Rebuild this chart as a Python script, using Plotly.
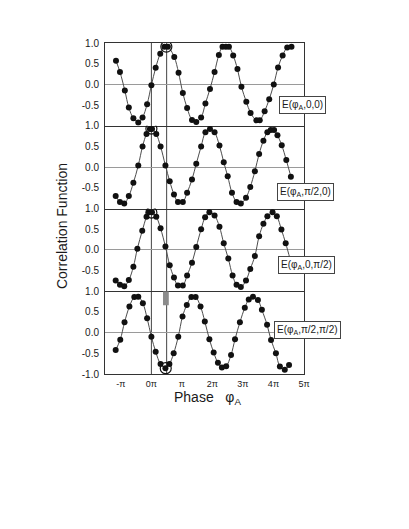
import plotly.graph_objects as go
from plotly.subplots import make_subplots

# ---------------- data (phase in units of pi) ----------------
x1 = [-1.16, -1.03, -0.87, -0.74, -0.59, -0.43, -0.29, -0.14, 0.0, 0.14, 0.29, 0.43, 0.54,
      0.75, 0.89, 1.03, 1.17, 1.33, 1.47, 1.63, 1.77, 1.92, 2.07, 2.21, 2.33, 2.44, 2.54,
      2.68, 2.82, 2.95, 3.11, 3.25, 3.44, 3.55, 3.71, 3.86, 4.01, 4.15, 4.30, 4.45, 4.59]
y1 = [0.57, 0.30, -0.15, -0.56, -0.82, -0.92, -0.80, -0.48, -0.02, 0.40, 0.74, 0.91, 0.91,
      0.66, 0.28, -0.21, -0.57, -0.86, -0.91, -0.80, -0.46, -0.11, 0.30, 0.71, 0.91, 0.91, 0.91,
      0.70, 0.37, -0.06, -0.42, -0.69, -0.87, -0.87, -0.65, -0.36, 0.00, 0.41, 0.70, 0.89, 0.91]

x2 = [-1.17, -1.03, -0.89, -0.74, -0.59, -0.43, -0.29, -0.16, -0.05, 0.02, 0.16, 0.30, 0.46,
      0.60, 0.74, 0.87, 1.03, 1.17, 1.33, 1.47, 1.63, 1.77, 1.92, 2.07, 2.23, 2.37, 2.50,
      2.64, 2.79, 2.93, 3.10, 3.24, 3.39, 3.53, 3.67, 3.80, 3.91, 4.02, 4.13, 4.27, 4.42, 4.57]
y2 = [-0.70, -0.84, -0.88, -0.70, -0.38, 0.04, 0.50, 0.80, 0.92, 0.92, 0.80, 0.50, 0.04,
      -0.34, -0.66, -0.84, -0.84, -0.62, -0.30, 0.08, 0.50, 0.84, 0.92, 0.84, 0.52, 0.12, -0.22,
      -0.62, -0.84, -0.88, -0.74, -0.48, -0.10, 0.32, 0.64, 0.84, 0.90, 0.90, 0.77, 0.53, 0.17, -0.23]

x3 = [-1.17, -1.03, -0.89, -0.74, -0.59, -0.46, -0.30, -0.16, -0.08, 0.02, 0.16, 0.30, 0.46,
      0.60, 0.74, 0.87, 1.03, 1.17, 1.33, 1.47, 1.63, 1.76, 1.90, 2.07, 2.23, 2.37, 2.52,
      2.66, 2.79, 2.93, 3.10, 3.24, 3.39, 3.53, 3.67, 3.80, 3.97, 4.11, 4.26, 4.40, 4.55]
y3 = [-0.74, -0.84, -0.88, -0.73, -0.41, 0.03, 0.46, 0.80, 0.91, 0.91, 0.80, 0.52, 0.08,
      -0.37, -0.67, -0.86, -0.86, -0.62, -0.31, 0.07, 0.50, 0.79, 0.91, 0.83, 0.56, 0.16, -0.21,
      -0.62, -0.84, -0.90, -0.74, -0.46, -0.15, 0.33, 0.63, 0.81, 0.91, 0.81, 0.49, 0.16, -0.24]

x4 = [-1.17, -1.02, -0.88, -0.72, -0.56, -0.43, -0.28, -0.14, 0.0, 0.14, 0.30, 0.46, 0.59,
      0.73, 0.88, 1.02, 1.16, 1.31, 1.45, 1.61, 1.75, 1.90, 2.04, 2.18, 2.31, 2.45, 2.61,
      2.74, 2.90, 3.06, 3.19, 3.33, 3.49, 3.62, 3.79, 3.92, 4.08, 4.21, 4.37, 4.51]
y4 = [-0.42, -0.17, 0.25, 0.63, 0.86, 0.87, 0.71, 0.35, -0.10, -0.46, -0.76, -0.86, -0.76,
      -0.50, -0.10, 0.39, 0.67, 0.86, 0.86, 0.63, 0.27, -0.16, -0.48, -0.73, -0.84, -0.81, -0.54,
      -0.16, 0.25, 0.60, 0.80, 0.87, 0.79, 0.55, 0.19, -0.18, -0.50, -0.82, -0.90, -0.78]

# highlighted (circled) points per panel
hl_x = [0.49, 0.0, 0.0, 0.47]
hl_y = [0.91, 0.93, 0.90, -0.86]

panel_labels = ["E(φ<sub>A</sub>,0,0)", "E(φ<sub>A</sub>,π/2,0)",
                "E(φ<sub>A</sub>,0,π/2)", "E(φ<sub>A</sub>,π/2,π/2)"]

x_tickvals = [-1, 0, 1, 2, 3, 4, 5]
x_ticktext = ["-π", "0π", "π", "2π", "3π", "4π", "5π"]
y_tickvals_top = [1.0, 0.5, 0.0, -0.5]
y_ticktext_top = ["1.0", "0.5", "0.0", "-0.5"]
y_tickvals_bot = [1.0, 0.5, 0.0, -0.5, -1.0]
y_ticktext_bot = ["1.0", "0.5", "0.0", "-0.5", "-1.0"]

# ---------------- figure ----------------
FONT = "Liberation Sans, Arial, sans-serif"
INK = "#1a1a1a"

fig = make_subplots(rows=4, cols=1, shared_xaxes=True, vertical_spacing=0)

series = [(x1, y1), (x2, y2), (x3, y3), (x4, y4)]
for i, (xs, ys) in enumerate(series):
    r = i + 1
    fig.add_trace(go.Scatter(x=xs, y=ys, mode="lines", line=dict(color="#4d4d4d", width=1,
                             shape="spline", smoothing=1.0), hoverinfo="skip",
                             showlegend=False), row=r, col=1)
    fig.add_trace(go.Scatter(x=xs, y=ys, mode="markers",
                             marker=dict(size=6, color="#111111"), showlegend=False),
                  row=r, col=1)
    fig.add_trace(go.Scatter(x=[hl_x[i]], y=[hl_y[i]], mode="markers",
                             marker=dict(symbol="circle-open", size=11, color="#111111",
                                         line=dict(width=1.2)), showlegend=False),
                  row=r, col=1)

for r in range(1, 5):
    bottom = (r == 4)
    fig.update_yaxes(range=[-1, 1], tickvals=y_tickvals_bot if bottom else y_tickvals_top,
                     ticktext=y_ticktext_bot if bottom else y_ticktext_top,
                     showgrid=False, zeroline=True, zerolinecolor="#9a9a9a", zerolinewidth=1,
                     showline=True, linecolor="#333333", linewidth=1, mirror=True,
                     ticks="", ticklabelstandoff=3,
                     tickfont=dict(family=FONT, size=10, color=INK), row=r, col=1)
    fig.update_xaxes(range=[-1.52, 5.0], tickvals=x_tickvals, ticktext=x_ticktext,
                     showgrid=False, zeroline=False, showline=True, linecolor="#333333",
                     linewidth=1, mirror=(r == 1), ticks="",
                     showticklabels=bottom, ticklabelstandoff=1,
                     tickfont=dict(family=FONT, size=9, color=INK), row=r, col=1)

# vertical reference lines at 0 and pi/2 through all panels
shapes = []
for xv in [0.0, 0.5]:
    shapes.append(dict(type="line", xref="x4", yref="paper", x0=xv, x1=xv, y0=0, y1=1,
                       line=dict(color="#444444", width=1), layer="below"))
# grey bar at top of the last panel
shapes.append(dict(type="rect", xref="x4", yref="y4", x0=0.38, x1=0.57, y0=0.66, y1=1.0,
                   fillcolor="#8c8c8c", line=dict(width=0), layer="below"))

annotations = []
label_pos = [(0.990, 0.813), (1.0075, 0.549), (1.015, 0.328), (1.0176, 0.132)]
for (ax, ay), txt in zip(label_pos, panel_labels):
    annotations.append(dict(text=txt, xref="paper", yref="paper", x=ax, y=ay,
                            xanchor="center", yanchor="middle", showarrow=False,
                            font=dict(family=FONT, size=10, color=INK),
                            bgcolor="white", bordercolor="#444444", borderwidth=1,
                            borderpad=2))
annotations.append(dict(text="Correlation Function", xref="paper", yref="paper",
                        x=-0.216, y=0.447, textangle=-90, showarrow=False,
                        xanchor="center", yanchor="middle",
                        font=dict(family=FONT, size=14, color=INK)))
annotations.append(dict(text="Phase   φ<sub>A</sub>", xref="paper", yref="paper",
                        x=0.513, y=-0.0725, showarrow=False,
                        xanchor="center", yanchor="middle",
                        font=dict(family=FONT, size=14, color=INK)))

fig.update_layout(width=401, height=521, margin=dict(l=97, r=105, t=35, b=155),
                  plot_bgcolor="white", paper_bgcolor="white",
                  shapes=shapes, annotations=annotations, showlegend=False)

fig.write_html("out.html")
